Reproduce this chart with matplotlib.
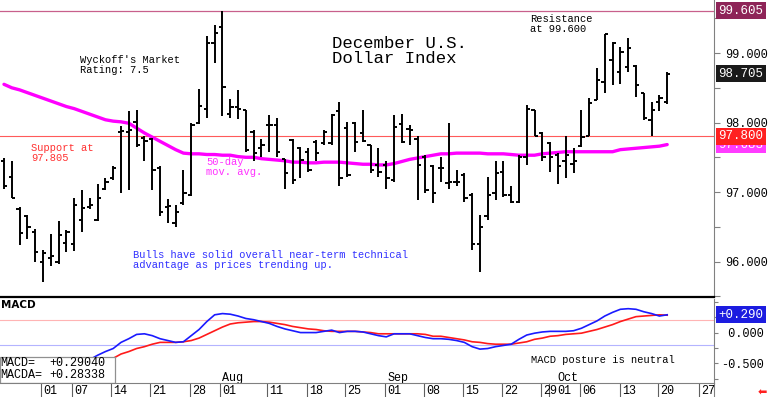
import numpy as np
import matplotlib.pyplot as plt
import matplotlib.transforms as mtransforms
from matplotlib.patches import Rectangle

plt.rcParams['font.family'] = ['Liberation Mono', 'DejaVu Sans Mono', 'DejaVu Sans']

# daily bars, Dec U.S. Dollar Index
highs = [97.49, 97.44, 96.79, 96.67, 96.47, 96.17, 96.39, 96.58, 96.45, 96.91,
         97.03, 96.91, 97.12, 97.20, 97.37, 97.95, 98.16, 98.18, 97.80, 97.78,
         97.37, 96.90, 96.82, 97.32, 97.99, 98.48, 99.25, 99.40, 99.60, 98.34,
         98.47, 98.18, 97.89, 97.77, 98.11, 98.06, 97.48, 97.77, 97.65, 97.63,
         97.75, 97.89, 98.13, 98.29, 98.01, 98.01, 98.18, 97.68, 97.63, 97.44,
         98.11, 98.13, 97.96, 97.80, 97.53, 97.39, 97.51, 97.99, 97.32, 97.27,
         96.98, 96.67, 97.22, 97.44, 97.44, 97.08, 97.53, 98.25, 98.18, 97.87,
         97.72, 97.56, 97.80, 97.63, 98.18, 98.35, 98.78, 99.28, 99.16, 99.09,
         99.21, 98.83, 98.43, 98.30, 98.40, 98.73]
lows = [97.05, 96.91, 96.24, 96.33, 96.00, 95.70, 95.93, 95.97, 96.14, 96.15,
        96.43, 96.76, 96.58, 97.03, 97.17, 96.99, 97.03, 97.65, 97.44, 97.03,
        96.65, 96.55, 96.49, 96.81, 96.95, 97.98, 98.06, 98.86, 98.09, 98.06,
        98.05, 97.58, 97.44, 97.51, 97.58, 97.51, 97.05, 97.12, 97.20, 97.29,
        97.44, 97.68, 97.68, 97.08, 97.22, 97.58, 97.72, 97.27, 97.22, 97.05,
        97.15, 97.70, 97.68, 96.88, 96.98, 96.84, 97.15, 97.05, 97.08, 96.86,
        96.17, 95.85, 96.60, 96.88, 96.93, 96.84, 96.84, 97.39, 97.80, 97.44,
        97.29, 97.12, 97.20, 97.27, 97.65, 97.80, 98.32, 98.42, 98.54, 98.56,
        98.73, 98.37, 98.04, 97.80, 98.16, 98.26]
opens = [97.44, 97.22, 96.75, 96.66, 96.43, 96.00, 96.05, 96.00, 96.26, 96.25,
         96.60, 96.78, 96.60, 97.04, 97.20, 97.86, 97.87, 98.01, 97.78, 97.77,
         97.35, 96.79, 96.55, 96.84, 96.96, 98.00, 98.20, 99.14, 99.37, 98.12,
         98.22, 98.18, 97.87, 97.63, 97.96, 97.97, 97.47, 97.75, 97.64, 97.58,
         97.72, 97.70, 97.70, 98.16, 97.92, 98.00, 97.85, 97.68, 97.39, 97.39,
         97.17, 97.98, 97.91, 97.77, 97.51, 97.37, 97.34, 97.13, 97.15, 97.25,
         96.96, 96.25, 96.65, 96.98, 97.29, 96.96, 96.85, 97.51, 98.18, 97.85,
         97.70, 97.53, 97.44, 97.40, 97.66, 97.80, 98.32, 98.58, 98.90, 98.73,
         98.80, 98.82, 98.43, 98.04, 98.30, 98.30]
closes = [97.08, 96.92, 96.41, 96.50, 96.14, 96.12, 96.08, 96.38, 96.43, 96.81,
          96.77, 96.81, 96.92, 97.14, 97.34, 97.88, 97.89, 97.68, 97.74, 97.32,
          96.72, 96.80, 96.72, 96.98, 97.97, 98.24, 99.14, 99.29, 98.51, 98.22,
          98.20, 97.60, 97.56, 97.68, 97.97, 97.58, 97.27, 97.17, 97.46, 97.32,
          97.56, 97.87, 98.11, 97.20, 97.24, 97.72, 97.74, 97.32, 97.29, 97.20,
          97.94, 97.72, 97.89, 97.39, 97.03, 96.98, 97.35, 97.15, 97.14, 96.91,
          96.25, 96.50, 96.96, 97.27, 96.96, 96.86, 97.51, 98.20, 97.81, 97.51,
          97.51, 97.37, 97.53, 97.45, 97.79, 98.28, 98.61, 99.27, 99.14, 99.02,
          99.07, 98.54, 98.06, 98.18, 98.35, 98.705]

ma50 = [98.55, 98.50, 98.47, 98.43, 98.39, 98.35, 98.31, 98.27, 98.23, 98.20,
        98.16, 98.12, 98.08, 98.04, 98.02, 98.01, 97.99, 97.92, 97.85, 97.79,
        97.73, 97.67, 97.61, 97.56, 97.55, 97.55, 97.54, 97.54, 97.53, 97.53,
        97.51, 97.50, 97.50, 97.48, 97.47, 97.46, 97.45, 97.43, 97.43, 97.42,
        97.42, 97.43, 97.43, 97.43, 97.42, 97.41, 97.40, 97.40, 97.39, 97.39,
        97.41, 97.44, 97.47, 97.49, 97.51, 97.53, 97.55, 97.55, 97.56, 97.56,
        97.56, 97.56, 97.55, 97.55, 97.55, 97.54, 97.53, 97.53, 97.53, 97.55,
        97.56, 97.57, 97.58, 97.58, 97.58, 97.58, 97.58, 97.58, 97.58, 97.61,
        97.62, 97.63, 97.64, 97.65, 97.66, 97.683]

macd = [-0.69, -0.71, -0.74, -0.77, -0.79, -0.79, -0.76, -0.71, -0.65, -0.58,
        -0.52, -0.44, -0.37, -0.31, -0.26, -0.16, -0.10, -0.03, -0.02, -0.05,
        -0.10, -0.13, -0.16, -0.15, -0.05, 0.05, 0.18, 0.29, 0.31, 0.30,
        0.27, 0.23, 0.21, 0.18, 0.15, 0.10, 0.06, 0.03, 0.00, 0.00,
        0.00, 0.02, 0.04, 0.00, 0.02, 0.02, 0.01, -0.02, -0.05, -0.07,
        -0.02, -0.02, -0.02, -0.05, -0.08, -0.10, -0.10, -0.11, -0.13, -0.16,
        -0.23, -0.27, -0.26, -0.23, -0.21, -0.19, -0.11, -0.04, -0.01, 0.01,
        0.02, 0.02, 0.02, 0.03, 0.07, 0.13, 0.19, 0.27, 0.33, 0.38,
        0.39, 0.38, 0.34, 0.31, 0.27, 0.2904]
macda = [-0.82, -0.82, -0.82, -0.82, -0.81, -0.79, -0.76, -0.71, -0.66, -0.60,
         -0.55, -0.50, -0.47, -0.44, -0.42, -0.35, -0.31, -0.26, -0.23, -0.19,
         -0.16, -0.16, -0.16, -0.15, -0.13, -0.09, -0.03, 0.03, 0.09, 0.14,
         0.16, 0.17, 0.18, 0.18, 0.17, 0.15, 0.13, 0.10, 0.08, 0.06,
         0.05, 0.03, 0.02, 0.02, 0.02, 0.02, 0.01, 0.00, -0.02, -0.02,
         -0.02, -0.02, -0.02, -0.02, -0.03, -0.06, -0.06, -0.08, -0.10, -0.12,
         -0.15, -0.16, -0.18, -0.19, -0.19, -0.19, -0.17, -0.15, -0.11, -0.09,
         -0.06, -0.05, -0.03, -0.02, -0.01, 0.02, 0.05, 0.09, 0.13, 0.18,
         0.22, 0.26, 0.27, 0.28, 0.29, 0.28338]

tick_pos = [4.7, 8.7, 13.7, 18.7, 23.8, 27.7, 33.7, 38.8, 43.7, 48.8,
            53.8, 58.8, 63.8, 68.8, 69.8, 73.8, 78.9, 83.8, 89.1]
tick_lab = ['01', '07', '14', '21', '28', '01', '11', '18', '25', '01',
            '08', '15', '22', '29', '01', '06', '13', '20', '27']
label_pos = [p + 0.3 for p in tick_pos]
label_pos[14] = 70.9
months = ['Aug', 'Sep', 'Oct']
month_pos = [28.0, 49.1, 70.9]

resistance = 99.605
support = 97.800
last_close = 98.705
ma_last = 97.683
macd_last = 0.290
macd_txt = '+0.29040'
macda_txt = '+0.28338'

W, H = 768, 397
fig = plt.figure(figsize=(W / 100, H / 100), dpi=100)
ax = fig.add_axes([0, 100 / H, 714 / W, 297 / H])
axm = fig.add_axes([0, 14 / H, 714 / W, 84 / H])
axd = fig.add_axes([0, 0, 714 / W, 14 / H])

xlo, xhi = -0.51, 91.0
x = np.arange(len(highs))

# ---- price panel
ax.vlines(x, lows, highs, color='black', lw=1.4, zorder=3)
ax.hlines(opens, x - 0.42, x, color='black', lw=1.4, zorder=3)
ax.hlines(closes, x, x + 0.42, color='black', lw=1.4, zorder=3)
ax.plot(x, ma50, color='#ff00ff', lw=2.4, zorder=2, solid_capstyle='round')
ax.axhline(resistance, color='#c8608c', lw=0.9, zorder=1)
ax.axhline(support, color='#ff5a5a', lw=0.8, zorder=1)
ax.set_xlim(xlo, xhi)
ax.set_ylim(95.49, 99.763)
ax.set_xticks([])
ax.yaxis.tick_right()
yt = np.arange(95.5, 99.75, 0.5)
ax.set_yticks(yt)
ax.set_yticklabels(['%.3f' % v if v == int(v) else '' for v in yt])
ax.tick_params(axis='y', direction='out', length=4, width=0.8, color='#808080',
               labelsize=8.6, pad=4)
for s in ['top', 'left']:
    ax.spines[s].set_visible(False)
ax.spines['right'].set_color('#808080')
ax.spines['bottom'].set_color('black')
ax.spines['bottom'].set_linewidth(1.6)

trans = mtransforms.blended_transform_factory(ax.transAxes, ax.transData)
for val, fc in [(resistance, '#8e2458'), (last_close, '#1a1a1a'),
                (ma_last, '#ff3cff'), (support, '#ff2020')]:
    ax.text(1.0 + 4 / 714, val, '%.3f' % val, transform=trans, ha='left', va='center',
            color='white', fontsize=9, clip_on=False,
            bbox=dict(boxstyle='square,pad=0.2', fc=fc, ec='none'))

# ---- MACD panel
axm.axhline(0.2, color='#ffb4b4', lw=0.8)
axm.axhline(-0.2, color='#b4b4ff', lw=0.8)
axm.plot(x, macda, color='#ff1a1a', lw=1.2)
axm.plot(x, macd, color='#1a1aff', lw=1.2)
axm.set_xlim(xlo, xhi)
axm.set_ylim(-0.823, 0.548)
axm.set_xticks([])
axm.yaxis.tick_right()
mt = [-0.75, -0.5, -0.25, 0.0, 0.25, 0.5]
axm.set_yticks(mt)
axm.set_yticklabels(['', '-0.500', '', ' 0.000', '', ''])
axm.tick_params(axis='y', direction='out', length=3, width=0.8, color='#808080',
                labelsize=8.6, pad=2)
for s in ['top', 'left', 'bottom']:
    axm.spines[s].set_visible(False)
axm.spines['right'].set_color('#808080')
transm = mtransforms.blended_transform_factory(axm.transAxes, axm.transData)
axm.text(1.0 + 4 / 714, macd_last, '+%.3f' % macd_last, transform=transm, ha='left',
         va='center', color='white', fontsize=9, clip_on=False,
         bbox=dict(boxstyle='square,pad=0.2', fc='#1c1ce0', ec='none'))

axm.add_patch(Rectangle((xlo, -0.823), 14.75, 0.42, fc='white', ec='#909090',
                        lw=0.9, zorder=5))
axm.text(-0.45, -0.50, 'MACD=', fontsize=8.5, va='center', zorder=6)
axm.text(5.75, -0.50, macd_txt, fontsize=8.5, va='center', zorder=6)
axm.text(-0.45, -0.69, 'MACDA=', fontsize=8.5, va='center', zorder=6)
axm.text(5.75, -0.69, macda_txt, fontsize=8.5, va='center', zorder=6)
for m, p in zip(months, month_pos):
    axm.text(p, -0.735, m, fontsize=8.5, va='center', ha='left')

# ---- date strip
axd.set_xlim(xlo, xhi)
axd.set_ylim(0, 1)
axd.vlines(tick_pos, 0, 1, color='#606060', lw=0.8)
for p, t in zip(label_pos, tick_lab):
    axd.text(p, 0.42, t, fontsize=8.5, va='center', ha='left')
axd.set_xticks([])
axd.set_yticks([])
for s in ['left', 'bottom']:
    axd.spines[s].set_visible(False)
axd.spines['top'].set_color('#808080')
axd.spines['right'].set_color('#808080')


def put(px, py, s, **kw):
    fig.text(px / W, 1 - py / H, s, va='top', **kw)


put(80, 55, "Wyckoff's Market\nRating: 7.5", fontsize=7.5, linespacing=1.05)
put(332, 36, "December U.S.\nDollar Index", fontsize=12.5, linespacing=1.0)
put(530, 14, "Resistance\nat 99.600", fontsize=7.5, linespacing=1.05)
put(31, 143, "Support at\n97.805", fontsize=7.5, color='#ff3030', linespacing=1.05)
put(206, 157, "50-day\nmov. avg.", fontsize=7.5, color='#ff30ff', linespacing=1.05)
put(133, 250, "Bulls have solid overall near-term technical\n"
    "advantage as prices trending up.", fontsize=7.5, color='#3030ff', linespacing=1.05)
put(531, 355, "MACD posture is neutral", fontsize=7.5)
put(1, 300, "MACD", fontsize=7.5, fontweight='bold', family='DejaVu Sans')
fig.text(762 / W, 1 - 393 / H, '\u2b05', fontsize=8, color='#ff2020', ha='center',
         va='center', family='DejaVu Sans')

fig.savefig('out.png', dpi=100)
